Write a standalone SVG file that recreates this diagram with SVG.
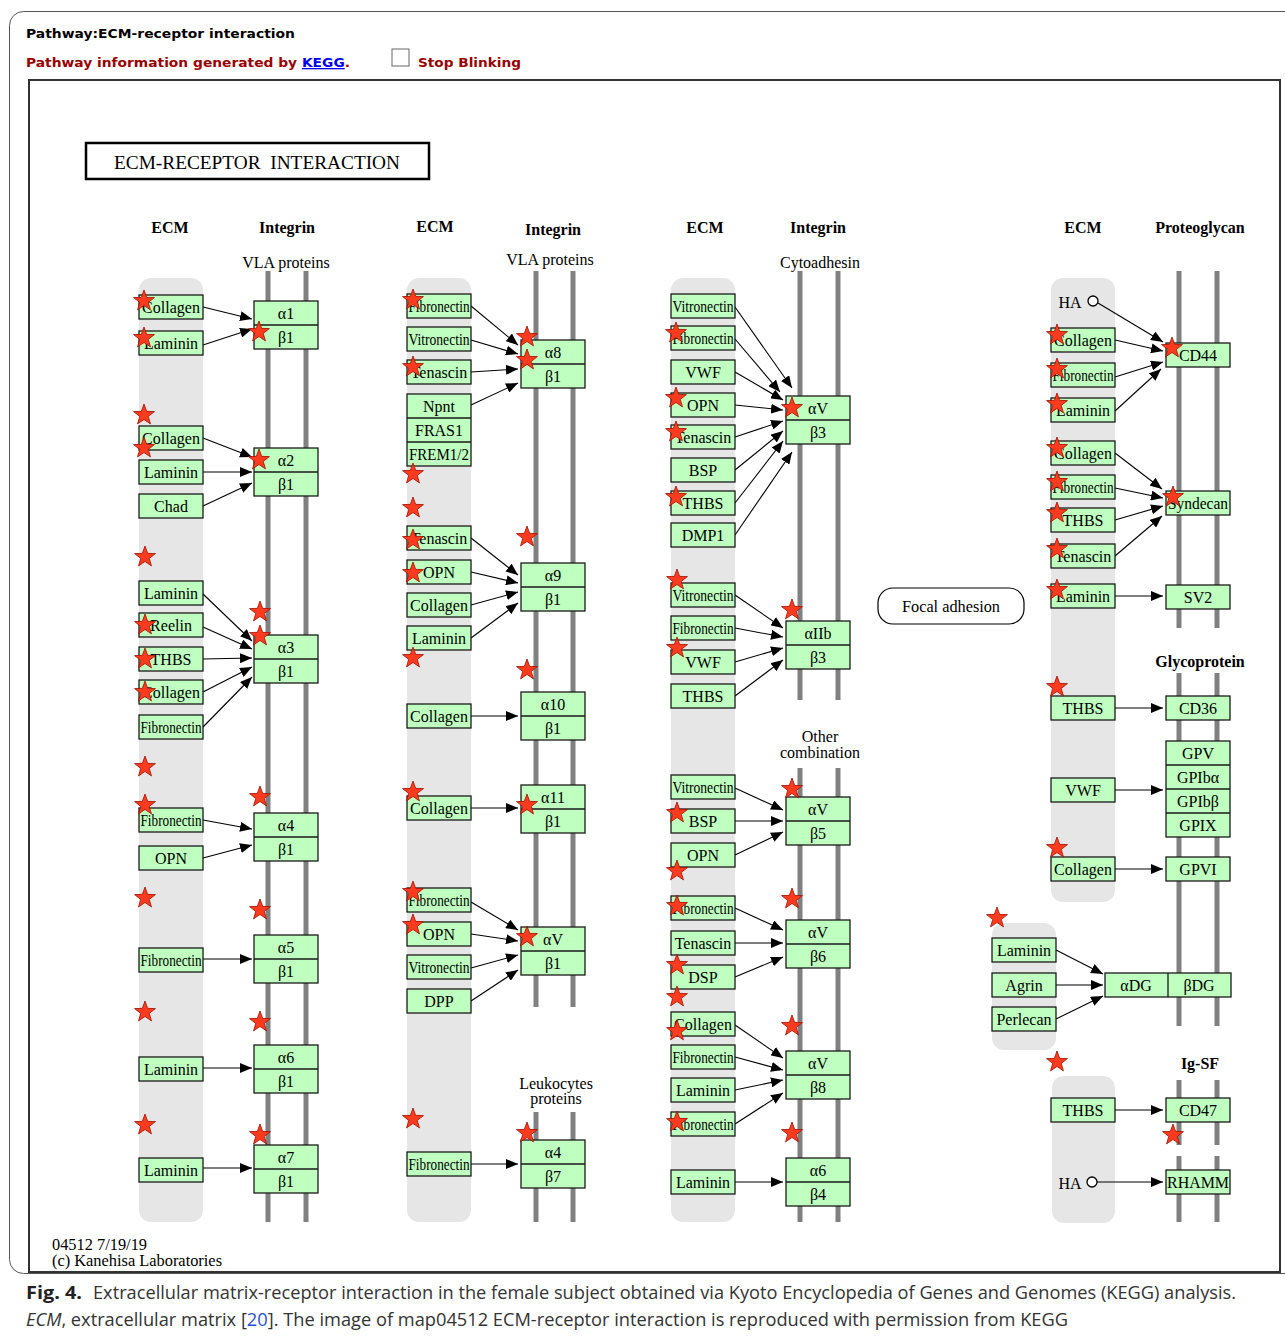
<svg xmlns="http://www.w3.org/2000/svg" xmlns:xlink="http://www.w3.org/1999/xlink" width="1285" height="1339" viewBox="0 0 1285 1339">
<style>
text{font-family:"Liberation Serif","DejaVu Serif",serif;fill:#000}
.bd{fill:#e6e6e6}
.mb{stroke:#808080;stroke-width:5}
.n rect{fill:#bfffbf;stroke:#1a1a1a;stroke-width:1.3}
.n line{stroke:#1a1a1a;stroke-width:1.3}
.n text,.lb{font-size:16px;text-anchor:middle}
.h{font-size:16px;font-weight:bold;text-anchor:middle}
.cx line{stroke:#000;stroke-width:1.1;marker-end:url(#ah)}
.st{fill:#ff3b1f;stroke:#a01000;stroke-width:0.8}
.hd{font-family:"DejaVu Sans",Verdana,sans-serif;font-weight:bold;font-size:13px}
.cap{font-family:"Open Sans","Noto Sans",sans-serif;font-size:18px;fill:#333}
</style>
<defs>
<marker id="ah" markerUnits="userSpaceOnUse" markerWidth="12" markerHeight="10" refX="12" refY="5" orient="auto"><path d="M0,0 L12,5 L0,10 z" fill="#000"/></marker>
<polygon id="star" class="st" points="0,-11 2.65,-3.64 10.46,-3.4 4.28,1.39 6.47,8.9 0,4.5 -6.47,8.9 -4.28,1.39 -10.46,-3.4 -2.65,-3.64"/>
</defs>
<rect width="1285" height="1339" fill="#fff"/>
<!-- frames -->
<rect x="9.5" y="11.5" width="1290" height="1262" rx="14" fill="none" stroke="#555" stroke-width="1"/>
<rect x="29" y="80" width="1251" height="1192" fill="#fff" stroke="#333" stroke-width="2"/>
<!-- header -->
<g id="header">
<text class="hd" x="26" y="38" textLength="269" lengthAdjust="spacingAndGlyphs">Pathway:ECM-receptor interaction</text>
<text class="hd" x="26" y="67" style="fill:#990000" textLength="324" lengthAdjust="spacingAndGlyphs">Pathway information generated by <tspan style="fill:#0000ee;text-decoration:underline">KEGG</tspan>.</text>
<rect x="392" y="49" width="17" height="17" fill="#fff" stroke="#666" stroke-width="1"/>
<text class="hd" x="418" y="67" style="fill:#990000" textLength="103" lengthAdjust="spacingAndGlyphs">Stop Blinking</text>
</g>
<g id="title">
<rect x="86" y="143" width="343" height="36" fill="#fff" stroke="#000" stroke-width="2.5"/>
<text x="257" y="169" font-size="18" text-anchor="middle" style="white-space:pre" textLength="286" lengthAdjust="spacingAndGlyphs">ECM-RECEPTOR  INTERACTION</text>
</g>
<!-- column labels -->
<g id="labels">
<text class="h" x="170" y="233">ECM</text>
<text class="h" x="287" y="233">Integrin</text>
<text class="lb" x="286" y="268">VLA proteins</text>
<text class="h" x="435" y="232">ECM</text>
<text class="h" x="553" y="235">Integrin</text>
<text class="lb" x="550" y="265">VLA proteins</text>
<text class="h" x="705" y="233">ECM</text>
<text class="h" x="818" y="233">Integrin</text>
<text class="lb" x="820" y="268">Cytoadhesin</text>
<text class="lb" x="820" y="742">Other</text>
<text class="lb" x="820" y="758">combination</text>
<text class="lb" x="556" y="1089">Leukocytes</text>
<text class="lb" x="556" y="1104">proteins</text>
<text class="h" x="1083" y="233">ECM</text>
<text class="h" x="1200" y="233">Proteoglycan</text>
<text class="h" x="1200" y="667">Glycoprotein</text>
<text class="h" x="1200" y="1069">Ig-SF</text>
<text class="lb" x="52" y="1250" style="text-anchor:start" textLength="95" lengthAdjust="spacingAndGlyphs">04512 7/19/19</text>
<text class="lb" x="52" y="1266" style="text-anchor:start" textLength="170" lengthAdjust="spacingAndGlyphs">(c) Kanehisa Laboratories</text>
</g>
<!-- bands -->
<g id="bands">
<rect class="bd" x="139" y="278" width="64" height="944" rx="12"/>
<rect class="bd" x="407" y="278" width="64" height="944" rx="12"/>
<rect class="bd" x="671" y="278" width="64" height="944" rx="12"/>
<rect class="bd" x="1051" y="278" width="64" height="624" rx="12"/>
<rect class="bd" x="992" y="923" width="64" height="127" rx="12"/>
<rect class="bd" x="1052" y="1076" width="63" height="147" rx="12"/>
</g>
<!-- membranes -->
<g id="membranes">
<line class="mb" x1="268" y1="271" x2="268" y2="1222"/><line class="mb" x1="306" y1="271" x2="306" y2="1222"/>
<line class="mb" x1="536" y1="271" x2="536" y2="1007"/><line class="mb" x1="573" y1="271" x2="573" y2="1007"/>
<line class="mb" x1="536" y1="1112" x2="536" y2="1222"/><line class="mb" x1="573" y1="1112" x2="573" y2="1222"/>
<line class="mb" x1="800" y1="271" x2="800" y2="700"/><line class="mb" x1="838" y1="271" x2="838" y2="700"/>
<line class="mb" x1="800" y1="768" x2="800" y2="1222"/><line class="mb" x1="838" y1="768" x2="838" y2="1222"/>
<line class="mb" x1="1179" y1="271" x2="1179" y2="628"/><line class="mb" x1="1217" y1="271" x2="1217" y2="628"/>
<line class="mb" x1="1179" y1="673" x2="1179" y2="1026"/><line class="mb" x1="1217" y1="673" x2="1217" y2="1026"/>
<line class="mb" x1="1179" y1="1080" x2="1179" y2="1145"/><line class="mb" x1="1217" y1="1080" x2="1217" y2="1145"/>
<line class="mb" x1="1179" y1="1156" x2="1179" y2="1222"/><line class="mb" x1="1217" y1="1156" x2="1217" y2="1222"/>
</g>
<!-- connectors -->
<g id="connectors" class="cx">
<line x1="203" y1="307" x2="252" y2="319"/>
<line x1="203" y1="345" x2="252" y2="329"/>
<line x1="203" y1="438" x2="252" y2="457"/>
<line x1="203" y1="472" x2="252" y2="472"/>
<line x1="203" y1="506" x2="252" y2="483"/>
<line x1="203" y1="594" x2="252" y2="641"/>
<line x1="203" y1="627" x2="252" y2="649"/>
<line x1="203" y1="659" x2="252" y2="658"/>
<line x1="203" y1="692" x2="252" y2="667"/>
<line x1="203" y1="727" x2="252" y2="677"/>
<line x1="203" y1="820" x2="252" y2="829"/>
<line x1="203" y1="858" x2="252" y2="845"/>
<line x1="203" y1="959" x2="252" y2="959"/>
<line x1="203" y1="1068" x2="252" y2="1068"/>
<line x1="203" y1="1168" x2="252" y2="1168"/>
<line x1="471" y1="306" x2="518" y2="345"/>
<line x1="471" y1="340" x2="518" y2="354"/>
<line x1="471" y1="372" x2="518" y2="369"/>
<line x1="471" y1="405" x2="518" y2="383"/>
<line x1="471" y1="538" x2="518" y2="575"/>
<line x1="471" y1="572" x2="518" y2="583"/>
<line x1="471" y1="605" x2="518" y2="592"/>
<line x1="471" y1="638" x2="518" y2="603"/>
<line x1="471" y1="716" x2="518" y2="716"/>
<line x1="471" y1="808" x2="518" y2="808"/>
<line x1="471" y1="902" x2="518" y2="930"/>
<line x1="471" y1="934" x2="518" y2="941"/>
<line x1="471" y1="968" x2="518" y2="955"/>
<line x1="471" y1="1001" x2="518" y2="970"/>
<line x1="471" y1="1164" x2="518" y2="1164"/>
<line x1="735" y1="307" x2="792" y2="388"/>
<line x1="735" y1="339" x2="780" y2="392"/>
<line x1="735" y1="372" x2="783" y2="400"/>
<line x1="735" y1="405" x2="783" y2="410"/>
<line x1="735" y1="437" x2="783" y2="421"/>
<line x1="735" y1="470" x2="783" y2="431"/>
<line x1="735" y1="503" x2="783" y2="441"/>
<line x1="735" y1="535" x2="792" y2="452"/>
<line x1="735" y1="595" x2="783" y2="628"/>
<line x1="735" y1="628" x2="783" y2="637"/>
<line x1="735" y1="662" x2="783" y2="648"/>
<line x1="735" y1="696" x2="783" y2="660"/>
<line x1="735" y1="788" x2="783" y2="810"/>
<line x1="735" y1="821" x2="783" y2="821"/>
<line x1="735" y1="855" x2="783" y2="832"/>
<line x1="735" y1="908" x2="783" y2="930"/>
<line x1="735" y1="943" x2="783" y2="943"/>
<line x1="735" y1="977" x2="783" y2="957"/>
<line x1="735" y1="1025" x2="783" y2="1058"/>
<line x1="735" y1="1057" x2="783" y2="1070"/>
<line x1="735" y1="1090" x2="783" y2="1080"/>
<line x1="735" y1="1124" x2="783" y2="1093"/>
<line x1="735" y1="1182" x2="783" y2="1182"/>
<line x1="1098" y1="303" x2="1163" y2="342"/>
<line x1="1115" y1="340" x2="1163" y2="351"/>
<line x1="1115" y1="377" x2="1163" y2="362"/>
<line x1="1115" y1="411" x2="1161" y2="369"/>
<line x1="1115" y1="453" x2="1162" y2="489"/>
<line x1="1115" y1="488" x2="1163" y2="498"/>
<line x1="1115" y1="520" x2="1163" y2="506"/>
<line x1="1115" y1="556" x2="1162" y2="516"/>
<line x1="1115" y1="596" x2="1163" y2="596"/>
<line x1="1115" y1="708" x2="1163" y2="708"/>
<line x1="1115" y1="790" x2="1163" y2="790"/>
<line x1="1115" y1="869" x2="1163" y2="869"/>
<line x1="1056" y1="950" x2="1103" y2="974"/>
<line x1="1056" y1="985" x2="1103" y2="985"/>
<line x1="1056" y1="1019" x2="1103" y2="996"/>
<line x1="1115" y1="1110" x2="1163" y2="1110"/>
<line x1="1097" y1="1182" x2="1163" y2="1182"/>
</g>
<!-- column 1 ECM -->
<g id="c1-collagen-1" class="n"><rect x="139" y="295" width="64" height="24"/><text x="171" y="312.5">Collagen</text></g>
<g id="c1-laminin-1" class="n"><rect x="139" y="331" width="64" height="24"/><text x="171" y="348.5">Laminin</text></g>
<g id="c1-collagen-2" class="n"><rect x="139" y="426" width="64" height="24"/><text x="171" y="443.5">Collagen</text></g>
<g id="c1-laminin-2" class="n"><rect x="139" y="460" width="64" height="24"/><text x="171" y="477.5">Laminin</text></g>
<g id="c1-chad" class="n"><rect x="139" y="494" width="64" height="24"/><text x="171" y="511.5">Chad</text></g>
<g id="c1-laminin-3" class="n"><rect x="139" y="581" width="64" height="24"/><text x="171" y="598.5">Laminin</text></g>
<g id="c1-reelin" class="n"><rect x="139" y="613" width="64" height="24"/><text x="171" y="630.5">Reelin</text></g>
<g id="c1-thbs" class="n"><rect x="139" y="647" width="64" height="24"/><text x="171" y="664.5">THBS</text></g>
<g id="c1-collagen-3" class="n"><rect x="139" y="680" width="64" height="24"/><text x="171" y="697.5">Collagen</text></g>
<g id="c1-fibronectin-1" class="n"><rect x="139" y="715" width="64" height="24"/><text x="171" y="732.5" textLength="61" lengthAdjust="spacingAndGlyphs">Fibronectin</text></g>
<g id="c1-fibronectin-2" class="n"><rect x="139" y="808" width="64" height="24"/><text x="171" y="825.5" textLength="61" lengthAdjust="spacingAndGlyphs">Fibronectin</text></g>
<g id="c1-opn" class="n"><rect x="139" y="846" width="64" height="24"/><text x="171" y="863.5">OPN</text></g>
<g id="c1-fibronectin-3" class="n"><rect x="139" y="948" width="64" height="24"/><text x="171" y="965.5" textLength="61" lengthAdjust="spacingAndGlyphs">Fibronectin</text></g>
<g id="c1-laminin-4" class="n"><rect x="139" y="1057" width="64" height="24"/><text x="171" y="1074.5">Laminin</text></g>
<g id="c1-laminin-5" class="n"><rect x="139" y="1158" width="64" height="24"/><text x="171" y="1175.5">Laminin</text></g>
<!-- column 1 integrins -->
<g id="c1-a1b1" class="n"><rect x="254" y="301" width="64" height="48"/><line x1="254" y1="325" x2="318" y2="325"/><text x="286" y="318.5">α1</text><text x="286" y="342.5">β1</text></g>
<g id="c1-a2b1" class="n"><rect x="254" y="448" width="64" height="48"/><line x1="254" y1="472" x2="318" y2="472"/><text x="286" y="465.5">α2</text><text x="286" y="489.5">β1</text></g>
<g id="c1-a3b1" class="n"><rect x="254" y="635" width="64" height="48"/><line x1="254" y1="659" x2="318" y2="659"/><text x="286" y="652.5">α3</text><text x="286" y="676.5">β1</text></g>
<g id="c1-a4b1" class="n"><rect x="254" y="813" width="64" height="48"/><line x1="254" y1="837" x2="318" y2="837"/><text x="286" y="830.5">α4</text><text x="286" y="854.5">β1</text></g>
<g id="c1-a5b1" class="n"><rect x="254" y="935" width="64" height="48"/><line x1="254" y1="959" x2="318" y2="959"/><text x="286" y="952.5">α5</text><text x="286" y="976.5">β1</text></g>
<g id="c1-a6b1" class="n"><rect x="254" y="1045" width="64" height="48"/><line x1="254" y1="1069" x2="318" y2="1069"/><text x="286" y="1062.5">α6</text><text x="286" y="1086.5">β1</text></g>
<g id="c1-a7b1" class="n"><rect x="254" y="1145" width="64" height="48"/><line x1="254" y1="1169" x2="318" y2="1169"/><text x="286" y="1162.5">α7</text><text x="286" y="1186.5">β1</text></g>
<!-- column 2 ECM -->
<g id="c2-fibronectin-1" class="n"><rect x="407" y="294" width="64" height="24"/><text x="439" y="311.5" textLength="61" lengthAdjust="spacingAndGlyphs">Fibronectin</text></g>
<g id="c2-vitronectin-1" class="n"><rect x="407" y="327" width="64" height="24"/><text x="439" y="344.5" textLength="61" lengthAdjust="spacingAndGlyphs">Vitronectin</text></g>
<g id="c2-tenascin-1" class="n"><rect x="407" y="360" width="64" height="24"/><text x="439" y="377.5">Tenascin</text></g>
<g id="c2-npnt" class="n"><rect x="407" y="394" width="64" height="72"/><line x1="407" y1="418" x2="471" y2="418"/><line x1="407" y1="442" x2="471" y2="442"/><text x="439" y="411.5">Npnt</text><text x="439" y="435.5">FRAS1</text><text x="439" y="459.5" textLength="60" lengthAdjust="spacingAndGlyphs">FREM1/2</text></g>
<g id="c2-tenascin-2" class="n"><rect x="407" y="526" width="64" height="24"/><text x="439" y="543.5">Tenascin</text></g>
<g id="c2-opn-1" class="n"><rect x="407" y="560" width="64" height="24"/><text x="439" y="577.5">OPN</text></g>
<g id="c2-collagen-1" class="n"><rect x="407" y="593" width="64" height="24"/><text x="439" y="610.5">Collagen</text></g>
<g id="c2-laminin-1" class="n"><rect x="407" y="626" width="64" height="24"/><text x="439" y="643.5">Laminin</text></g>
<g id="c2-collagen-2" class="n"><rect x="407" y="704" width="64" height="24"/><text x="439" y="721.5">Collagen</text></g>
<g id="c2-collagen-3" class="n"><rect x="407" y="796" width="64" height="24"/><text x="439" y="813.5">Collagen</text></g>
<g id="c2-fibronectin-2" class="n"><rect x="407" y="888" width="64" height="24"/><text x="439" y="905.5" textLength="61" lengthAdjust="spacingAndGlyphs">Fibronectin</text></g>
<g id="c2-opn-2" class="n"><rect x="407" y="922" width="64" height="24"/><text x="439" y="939.5">OPN</text></g>
<g id="c2-vitronectin-2" class="n"><rect x="407" y="955" width="64" height="24"/><text x="439" y="972.5" textLength="61" lengthAdjust="spacingAndGlyphs">Vitronectin</text></g>
<g id="c2-dpp" class="n"><rect x="407" y="989" width="64" height="24"/><text x="439" y="1006.5">DPP</text></g>
<g id="c2-fibronectin-3" class="n"><rect x="407" y="1152" width="64" height="24"/><text x="439" y="1169.5" textLength="61" lengthAdjust="spacingAndGlyphs">Fibronectin</text></g>
<!-- column 2 integrins -->
<g id="c2-a8b1" class="n"><rect x="521" y="340" width="64" height="48"/><line x1="521" y1="364" x2="585" y2="364"/><text x="553" y="357.5">α8</text><text x="553" y="381.5">β1</text></g>
<g id="c2-a9b1" class="n"><rect x="521" y="563" width="64" height="48"/><line x1="521" y1="587" x2="585" y2="587"/><text x="553" y="580.5">α9</text><text x="553" y="604.5">β1</text></g>
<g id="c2-a10b1" class="n"><rect x="521" y="692" width="64" height="48"/><line x1="521" y1="716" x2="585" y2="716"/><text x="553" y="709.5">α10</text><text x="553" y="733.5">β1</text></g>
<g id="c2-a11b1" class="n"><rect x="521" y="785" width="64" height="48"/><line x1="521" y1="809" x2="585" y2="809"/><text x="553" y="802.5">α11</text><text x="553" y="826.5">β1</text></g>
<g id="c2-avb1" class="n"><rect x="521" y="927" width="64" height="48"/><line x1="521" y1="951" x2="585" y2="951"/><text x="553" y="944.5">αV</text><text x="553" y="968.5">β1</text></g>
<g id="c2-a4b7" class="n"><rect x="521" y="1140" width="64" height="48"/><line x1="521" y1="1164" x2="585" y2="1164"/><text x="553" y="1157.5">α4</text><text x="553" y="1181.5">β7</text></g>
<!-- column 3 ECM -->
<g id="c3-vitronectin-1" class="n"><rect x="671" y="294" width="64" height="24"/><text x="703" y="311.5" textLength="61" lengthAdjust="spacingAndGlyphs">Vitronectin</text></g>
<g id="c3-fibronectin-1" class="n"><rect x="671" y="326" width="64" height="24"/><text x="703" y="343.5" textLength="61" lengthAdjust="spacingAndGlyphs">Fibronectin</text></g>
<g id="c3-vwf-1" class="n"><rect x="671" y="360" width="64" height="24"/><text x="703" y="377.5">VWF</text></g>
<g id="c3-opn-1" class="n"><rect x="671" y="393" width="64" height="24"/><text x="703" y="410.5">OPN</text></g>
<g id="c3-tenascin-1" class="n"><rect x="671" y="425" width="64" height="24"/><text x="703" y="442.5">Tenascin</text></g>
<g id="c3-bsp-1" class="n"><rect x="671" y="458" width="64" height="24"/><text x="703" y="475.5">BSP</text></g>
<g id="c3-thbs-1" class="n"><rect x="671" y="491" width="64" height="24"/><text x="703" y="508.5">THBS</text></g>
<g id="c3-dmp1" class="n"><rect x="671" y="523" width="64" height="24"/><text x="703" y="540.5">DMP1</text></g>
<g id="c3-vitronectin-2" class="n"><rect x="671" y="583" width="64" height="24"/><text x="703" y="600.5" textLength="61" lengthAdjust="spacingAndGlyphs">Vitronectin</text></g>
<g id="c3-fibronectin-2" class="n"><rect x="671" y="616" width="64" height="24"/><text x="703" y="633.5" textLength="61" lengthAdjust="spacingAndGlyphs">Fibronectin</text></g>
<g id="c3-vwf-2" class="n"><rect x="671" y="650" width="64" height="24"/><text x="703" y="667.5">VWF</text></g>
<g id="c3-thbs-2" class="n"><rect x="671" y="684" width="64" height="24"/><text x="703" y="701.5">THBS</text></g>
<g id="c3-vitronectin-3" class="n"><rect x="671" y="775" width="64" height="24"/><text x="703" y="792.5" textLength="61" lengthAdjust="spacingAndGlyphs">Vitronectin</text></g>
<g id="c3-bsp-2" class="n"><rect x="671" y="809" width="64" height="24"/><text x="703" y="826.5">BSP</text></g>
<g id="c3-opn-2" class="n"><rect x="671" y="843" width="64" height="24"/><text x="703" y="860.5">OPN</text></g>
<g id="c3-fibronectin-3" class="n"><rect x="671" y="896" width="64" height="24"/><text x="703" y="913.5" textLength="61" lengthAdjust="spacingAndGlyphs">Fibronectin</text></g>
<g id="c3-tenascin-2" class="n"><rect x="671" y="931" width="64" height="24"/><text x="703" y="948.5">Tenascin</text></g>
<g id="c3-dsp" class="n"><rect x="671" y="965" width="64" height="24"/><text x="703" y="982.5">DSP</text></g>
<g id="c3-collagen" class="n"><rect x="671" y="1012" width="64" height="24"/><text x="703" y="1029.5">Collagen</text></g>
<g id="c3-fibronectin-4" class="n"><rect x="671" y="1045" width="64" height="24"/><text x="703" y="1062.5" textLength="61" lengthAdjust="spacingAndGlyphs">Fibronectin</text></g>
<g id="c3-laminin-1" class="n"><rect x="671" y="1078" width="64" height="24"/><text x="703" y="1095.5">Laminin</text></g>
<g id="c3-fibronectin-5" class="n"><rect x="671" y="1112" width="64" height="24"/><text x="703" y="1129.5" textLength="61" lengthAdjust="spacingAndGlyphs">Fibronectin</text></g>
<g id="c3-laminin-2" class="n"><rect x="671" y="1170" width="64" height="24"/><text x="703" y="1187.5">Laminin</text></g>
<!-- column 3 integrins -->
<g id="c3-avb3" class="n"><rect x="786" y="396" width="64" height="48"/><line x1="786" y1="420" x2="850" y2="420"/><text x="818" y="413.5">αV</text><text x="818" y="437.5">β3</text></g>
<g id="c3-a2bb3" class="n"><rect x="786" y="621" width="64" height="48"/><line x1="786" y1="645" x2="850" y2="645"/><text x="818" y="638.5">αIIb</text><text x="818" y="662.5">β3</text></g>
<g id="c3-avb5" class="n"><rect x="786" y="797" width="64" height="48"/><line x1="786" y1="821" x2="850" y2="821"/><text x="818" y="814.5">αV</text><text x="818" y="838.5">β5</text></g>
<g id="c3-avb6" class="n"><rect x="786" y="920" width="64" height="48"/><line x1="786" y1="944" x2="850" y2="944"/><text x="818" y="937.5">αV</text><text x="818" y="961.5">β6</text></g>
<g id="c3-avb8" class="n"><rect x="786" y="1051" width="64" height="48"/><line x1="786" y1="1075" x2="850" y2="1075"/><text x="818" y="1068.5">αV</text><text x="818" y="1092.5">β8</text></g>
<g id="c3-a6b4" class="n"><rect x="786" y="1158" width="64" height="48"/><line x1="786" y1="1182" x2="850" y2="1182"/><text x="818" y="1175.5">α6</text><text x="818" y="1199.5">β4</text></g>
<!-- focal adhesion -->
<g id="focal-adhesion"><rect x="878" y="588" width="146" height="36" rx="15" fill="#fff" stroke="#000" stroke-width="1.2"/><text class="lb" x="951" y="612" textLength="98" lengthAdjust="spacingAndGlyphs">Focal adhesion</text></g>
<!-- column 4 -->
<g id="c4-ha-1"><text class="lb" x="1070" y="308">HA</text><circle cx="1093" cy="301" r="5" fill="#fff" stroke="#000" stroke-width="1.3"/></g>
<g id="c4-collagen-1" class="n"><rect x="1051" y="328" width="64" height="24"/><text x="1083" y="345.5">Collagen</text></g>
<g id="c4-fibronectin-1" class="n"><rect x="1051" y="363" width="64" height="24"/><text x="1083" y="380.5" textLength="61" lengthAdjust="spacingAndGlyphs">Fibronectin</text></g>
<g id="c4-laminin-1" class="n"><rect x="1051" y="398" width="64" height="24"/><text x="1083" y="415.5">Laminin</text></g>
<g id="c4-collagen-2" class="n"><rect x="1051" y="441" width="64" height="24"/><text x="1083" y="458.5">Collagen</text></g>
<g id="c4-fibronectin-2" class="n"><rect x="1051" y="475" width="64" height="24"/><text x="1083" y="492.5" textLength="61" lengthAdjust="spacingAndGlyphs">Fibronectin</text></g>
<g id="c4-thbs-1" class="n"><rect x="1051" y="508" width="64" height="24"/><text x="1083" y="525.5">THBS</text></g>
<g id="c4-tenascin" class="n"><rect x="1051" y="544" width="64" height="24"/><text x="1083" y="561.5">Tenascin</text></g>
<g id="c4-laminin-2" class="n"><rect x="1051" y="584" width="64" height="24"/><text x="1083" y="601.5">Laminin</text></g>
<g id="c4-thbs-2" class="n"><rect x="1051" y="696" width="64" height="24"/><text x="1083" y="713.5">THBS</text></g>
<g id="c4-vwf" class="n"><rect x="1051" y="778" width="64" height="24"/><text x="1083" y="795.5">VWF</text></g>
<g id="c4-collagen-3" class="n"><rect x="1051" y="857" width="64" height="24"/><text x="1083" y="874.5">Collagen</text></g>
<g id="c4-cd44" class="n"><rect x="1166" y="343" width="64" height="24"/><text x="1198" y="360.5">CD44</text></g>
<g id="c4-syndecan" class="n"><rect x="1166" y="491" width="64" height="24"/><text x="1198" y="508.5" textLength="60" lengthAdjust="spacingAndGlyphs">Syndecan</text></g>
<g id="c4-sv2" class="n"><rect x="1166" y="585" width="64" height="24"/><text x="1198" y="602.5">SV2</text></g>
<g id="c4-cd36" class="n"><rect x="1166" y="696" width="64" height="24"/><text x="1198" y="713.5">CD36</text></g>
<g id="c4-gp" class="n"><rect x="1166" y="741" width="64" height="96"/><line x1="1166" y1="765" x2="1230" y2="765"/><line x1="1166" y1="789" x2="1230" y2="789"/><line x1="1166" y1="813" x2="1230" y2="813"/><text x="1198" y="758.5">GPV</text><text x="1198" y="782.5">GPIbα</text><text x="1198" y="806.5">GPIbβ</text><text x="1198" y="830.5">GPIX</text></g>
<g id="c4-gpvi" class="n"><rect x="1166" y="857" width="64" height="24"/><text x="1198" y="874.5">GPVI</text></g>
<g id="c4-laminin-3" class="n"><rect x="992" y="938" width="64" height="24"/><text x="1024" y="955.5">Laminin</text></g>
<g id="c4-agrin" class="n"><rect x="992" y="973" width="64" height="24"/><text x="1024" y="990.5">Agrin</text></g>
<g id="c4-perlecan" class="n"><rect x="992" y="1007" width="64" height="24"/><text x="1024" y="1024.5">Perlecan</text></g>
<g id="c4-dg" class="n"><rect x="1105" y="973" width="126" height="24"/><line x1="1168" y1="973" x2="1168" y2="997"/><text x="1136" y="990.5">αDG</text><text x="1199" y="990.5">βDG</text></g>
<g id="c4-thbs-3" class="n"><rect x="1051" y="1098" width="64" height="24"/><text x="1083" y="1115.5">THBS</text></g>
<g id="c4-cd47" class="n"><rect x="1166" y="1098" width="64" height="24"/><text x="1198" y="1115.5">CD47</text></g>
<g id="c4-ha-2"><text class="lb" x="1070" y="1189">HA</text><circle cx="1092" cy="1182" r="5" fill="#fff" stroke="#000" stroke-width="1.3"/></g>
<g id="c4-rhamm" class="n"><rect x="1166" y="1170" width="64" height="24"/><text x="1198" y="1187.5" textLength="62" lengthAdjust="spacingAndGlyphs">RHAMM</text></g>
<!-- stars -->
<g id="stars">
<use href="#star" x="144" y="301"/><use href="#star" x="144" y="338"/><use href="#star" x="144" y="415"/><use href="#star" x="144" y="448"/>
<use href="#star" x="259" y="332"/><use href="#star" x="259" y="460"/><use href="#star" x="145" y="557"/><use href="#star" x="260" y="612"/>
<use href="#star" x="260" y="636"/><use href="#star" x="145" y="625"/><use href="#star" x="145" y="659"/><use href="#star" x="145" y="692"/>
<use href="#star" x="145" y="767"/><use href="#star" x="145" y="805"/><use href="#star" x="260" y="797"/><use href="#star" x="145" y="898"/>
<use href="#star" x="260" y="910"/><use href="#star" x="145" y="1012"/><use href="#star" x="260" y="1022"/><use href="#star" x="145" y="1125"/>
<use href="#star" x="260" y="1135"/>
<use href="#star" x="413" y="300"/><use href="#star" x="527" y="337"/><use href="#star" x="527" y="360"/><use href="#star" x="413" y="367"/>
<use href="#star" x="413" y="474"/><use href="#star" x="413" y="508"/><use href="#star" x="527" y="537"/><use href="#star" x="413" y="540"/>
<use href="#star" x="413" y="573"/><use href="#star" x="413" y="658"/><use href="#star" x="527" y="670"/><use href="#star" x="413" y="792"/>
<use href="#star" x="527" y="805"/><use href="#star" x="413" y="892"/><use href="#star" x="413" y="925"/><use href="#star" x="527" y="937"/>
<use href="#star" x="413" y="1119"/><use href="#star" x="527" y="1133"/>
<use href="#star" x="676" y="333"/><use href="#star" x="676" y="398"/><use href="#star" x="676" y="432"/><use href="#star" x="676" y="497"/>
<use href="#star" x="792" y="408"/><use href="#star" x="677" y="580"/><use href="#star" x="792" y="610"/><use href="#star" x="677" y="648"/>
<use href="#star" x="792" y="789"/><use href="#star" x="677" y="813"/><use href="#star" x="677" y="871"/><use href="#star" x="792" y="899"/>
<use href="#star" x="677" y="906"/><use href="#star" x="677" y="965"/><use href="#star" x="677" y="997"/><use href="#star" x="677" y="1031"/>
<use href="#star" x="792" y="1026"/><use href="#star" x="677" y="1122"/><use href="#star" x="792" y="1133"/>
<use href="#star" x="1057" y="335"/><use href="#star" x="1172" y="348"/><use href="#star" x="1057" y="369"/><use href="#star" x="1057" y="404"/>
<use href="#star" x="1057" y="448"/><use href="#star" x="1057" y="482"/><use href="#star" x="1057" y="513"/><use href="#star" x="1057" y="549"/>
<use href="#star" x="1173" y="497"/><use href="#star" x="1057" y="590"/><use href="#star" x="1057" y="687"/><use href="#star" x="1057" y="848"/>
<use href="#star" x="997" y="918"/><use href="#star" x="1057" y="1062"/><use href="#star" x="1173" y="1135"/>
</g>
<!-- caption -->
<g id="caption">
<text class="cap" x="26" y="1299" style="font-weight:bold;fill:#222" textLength="56" lengthAdjust="spacingAndGlyphs">Fig. 4.</text>
<text class="cap" x="93" y="1299" textLength="1143" lengthAdjust="spacingAndGlyphs">Extracellular matrix-receptor interaction in the female subject obtained via Kyoto Encyclopedia of Genes and Genomes (KEGG) analysis.</text>
<text class="cap" x="26" y="1326" textLength="1042" lengthAdjust="spacingAndGlyphs"><tspan font-style="italic">ECM</tspan>, extracellular matrix [<tspan style="fill:#2a4fd6">20</tspan>].  The image of map04512 ECM-receptor interaction is reproduced with permission from KEGG</text>
</g>
</svg>
